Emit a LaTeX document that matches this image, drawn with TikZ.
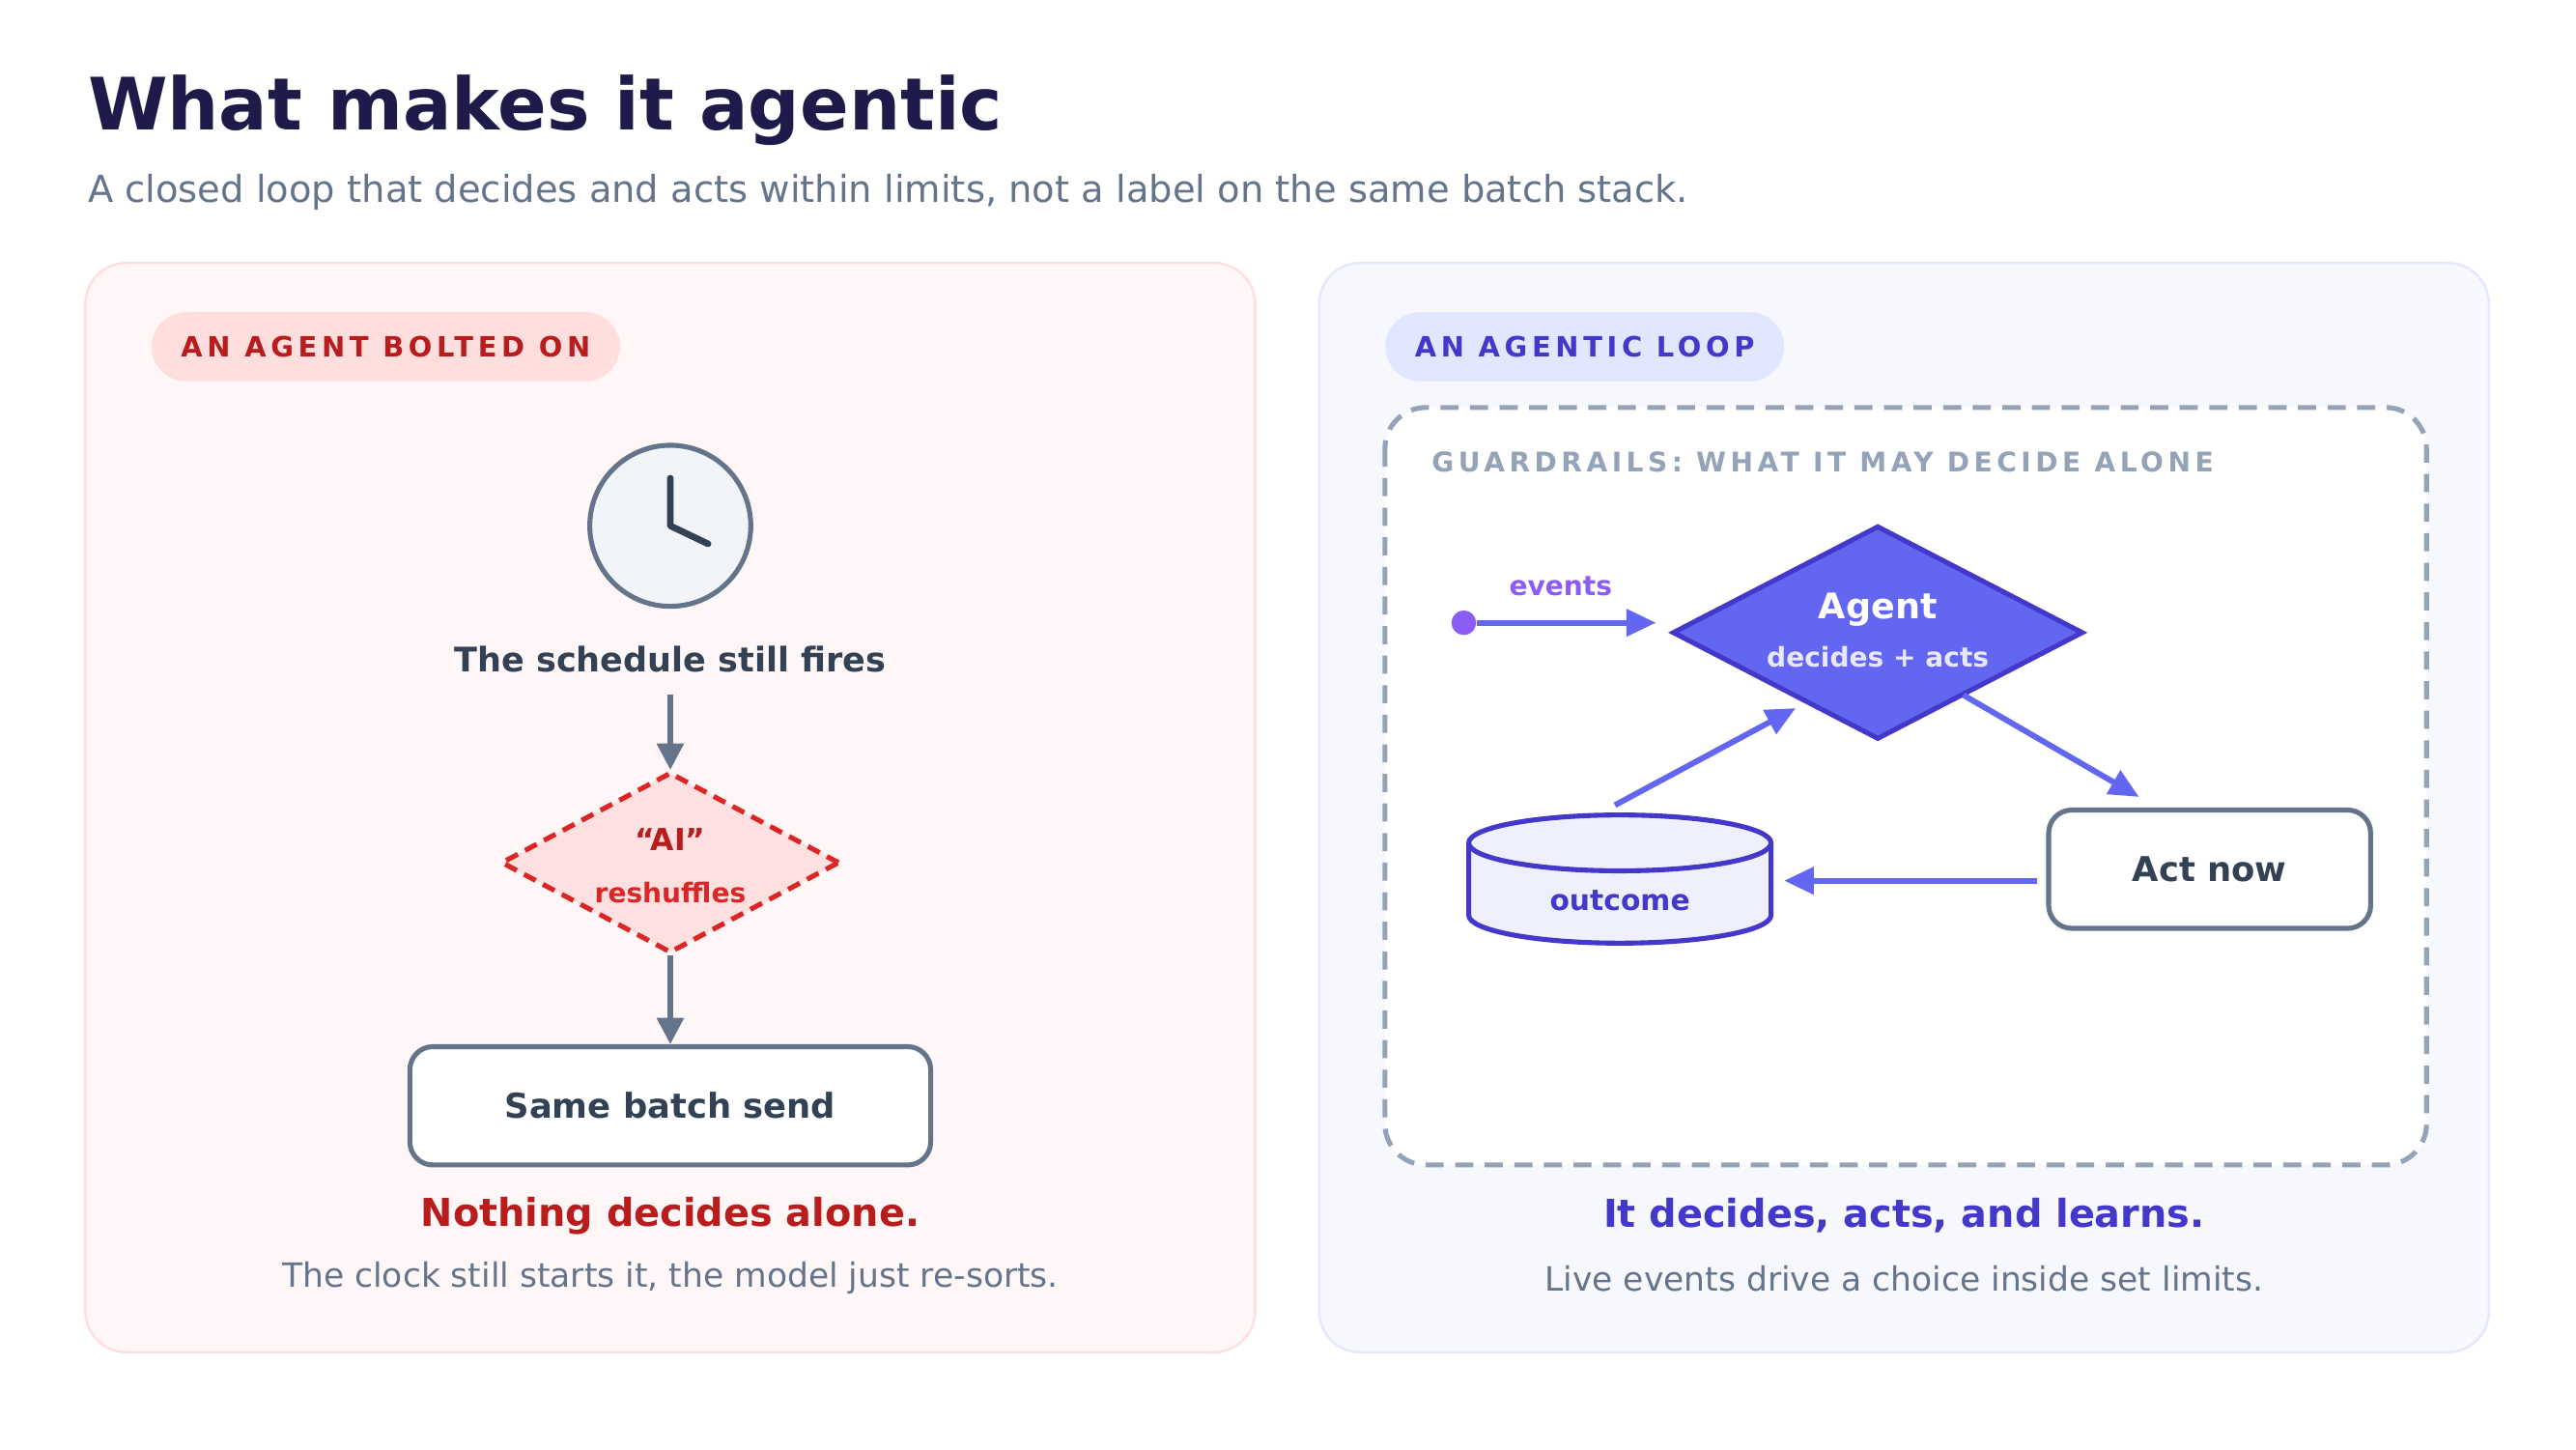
\documentclass[tikz,border=0pt]{standalone}
\usepackage{fontspec}
\setmainfont{DejaVu Sans}
\newfontfamily\spaced{DejaVu Sans}[LetterSpace=16]
\usetikzlibrary{shapes.geometric,arrows.meta}
\definecolor{ink}{HTML}{1E1B4B}
\definecolor{slate}{HTML}{64748B}
\definecolor{dark}{HTML}{334155}
\definecolor{redt}{HTML}{B91C1C}
\definecolor{redl}{HTML}{DC2626}
\definecolor{indi}{HTML}{6366F1}
\definecolor{indd}{HTML}{4338CA}
\definecolor{viol}{HTML}{8B5CF6}
\definecolor{guard}{HTML}{94A3B8}
\definecolor{clockbg}{HTML}{F1F5F9}
\definecolor{pillr}{HTML}{E0E7FF}
\tikzset{
  panel/.style={draw=#1,line width=1.5pt,rounded corners=25pt},
  pill/.style={fill=#1,rounded corners=21pt,minimum height=42pt,inner xsep=18pt},
  box/.style={draw=slate,fill=white,line width=3pt,rounded corners=14pt,font=\bfseries\fontsize{20.8}{25}\selectfont,text=dark},
  flow/.style={draw=slate,line width=3pt,-{Triangle[length=16pt,width=16pt]}},
  iflow/.style={draw=indi,line width=3.5pt,-{Triangle[length=18pt,width=16pt]}}
}
\begin{document}
\begin{tikzpicture}[x=1pt,y=-1pt]
  \useasboundingbox[fill=white] (0,0) rectangle (1568,882);

  % heading
  \node[anchor=west,text=ink,font=\bfseries\fontsize{44}{50}\selectfont] (title) at (50,67) {What makes it agentic};
  \node[anchor=west,text=slate,font=\fontsize{22.6}{27}\selectfont] (sub) at (50,117) {A closed loop that decides and acts within limits, not a label on the same batch stack.};

  % left panel
  \draw[panel={red!12},fill={red!3}] (52,160) rectangle (764,823);
  \node[pill={red!13},anchor=west,text=redt,font=\spaced\bfseries\fontsize{17}{20}\selectfont] (pl) at (92,211) {AN AGENT BOLTED ON};
  \node[circle,draw=slate,fill=clockbg,line width=3pt,minimum size=98pt] (clock) at (408,320) {};
  \draw[dark,line width=4pt,line cap=round,line join=round] (408,291) -- (clock.center) -- (431,331);
  \node[text=dark,font=\bfseries\fontsize{20.6}{24}\selectfont] (fires) at (408,401) {The schedule still fires};
  \node[diamond,draw=redl,fill=red!12,dash pattern=on 8pt off 5pt,line width=3pt,
        minimum width=206pt,minimum height=110pt,inner sep=0pt] (ai) at (408,525) {};
  \node[text=redt,font=\bfseries\fontsize{18.5}{22}\selectfont] (ait) at (408,511) {“AI”};
  \node[text=redl,font=\bfseries\fontsize{16.5}{20}\selectfont] (ais) at (408,543) {reshuffles};
  \node[box,minimum width=317pt,minimum height=72pt] (batch) at (408,673) {Same batch send};
  \draw[flow] ([yshift=-10pt]fires.south) -- (ai.north);
  \draw[flow] (ai.south) -- (batch.north);
  \node[text=redt,font=\bfseries\fontsize{23.4}{27}\selectfont] (nl) at (408,740) {Nothing decides alone.};
  \node[text=slate,font=\fontsize{20.3}{24}\selectfont] (nd) at (408,778) {The clock still starts it, the model just re-sorts.};

  % right panel
  \draw[panel={indi!15},fill={indi!5}] (803,160) rectangle (1515,823);
  \node[pill=pillr,anchor=west,text=indd,font=\spaced\bfseries\fontsize{17}{20}\selectfont] (pr) at (843,211) {AN AGENTIC LOOP};
  \draw[guard,line width=3pt,dash pattern=on 11pt off 7pt,rounded corners=25pt,fill=white] (843,248) rectangle (1477,709);
  \node[anchor=west,text=guard,font=\spaced\bfseries\fontsize{16.5}{20}\selectfont] (gr) at (868,281) {GUARDRAILS: WHAT IT MAY DECIDE ALONE};

  \node[circle,fill=viol,minimum size=15pt,inner sep=0pt] (ev) at (891,379) {};
  \node[text=viol,font=\bfseries\fontsize{16.5}{20}\selectfont] (evt) at (950,357) {events};
  \node[diamond,draw=indd,fill=indi,line width=3pt,minimum width=250pt,minimum height=130pt,inner sep=0pt] (agent) at (1143,385) {};
  \node[text=white,font=\bfseries\fontsize{21.5}{25}\selectfont] (agt) at (1143,371) {Agent};
  \node[text=indi!15,font=\bfseries\fontsize{16.5}{20}\selectfont] (ags) at (1143,400) {decides + acts};
  \node[box,minimum width=196pt,minimum height=72pt] (act) at (1345,529) {Act now};
  \coordinate (actL) at (1240,536);

  % outcome store
  \draw[indd,line width=3pt,fill=indi!10] (894,513) -- (894,557) arc[start angle=180,end angle=0,x radius=92,y radius=17] -- (1078,513);
  \draw[indd,line width=3pt,fill=indi!10] (986,513) ellipse[x radius=92,y radius=17];
  \node[text=indd,font=\bfseries\fontsize{17.5}{20}\selectfont] (store) at (986,548) {outcome};
  \coordinate (storeT) at (983,490);
  \coordinate (storeR) at (1086,536);

  \draw[iflow] (ev) -- (1008,379);
  \draw[iflow] (1195,423) -- (1302,485);
  \draw[iflow] (actL) -- (storeR);
  \draw[iflow] (storeT) -- (1093,431);

  \node[text=indd,font=\bfseries\fontsize{23.4}{27}\selectfont] (nr) at (1159,740) {It decides, acts, and learns.};
  \node[text=slate,font=\fontsize{20.3}{24}\selectfont] (ndr) at (1159,778) {Live events drive a choice inside set limits.};
\end{tikzpicture}
\end{document}
